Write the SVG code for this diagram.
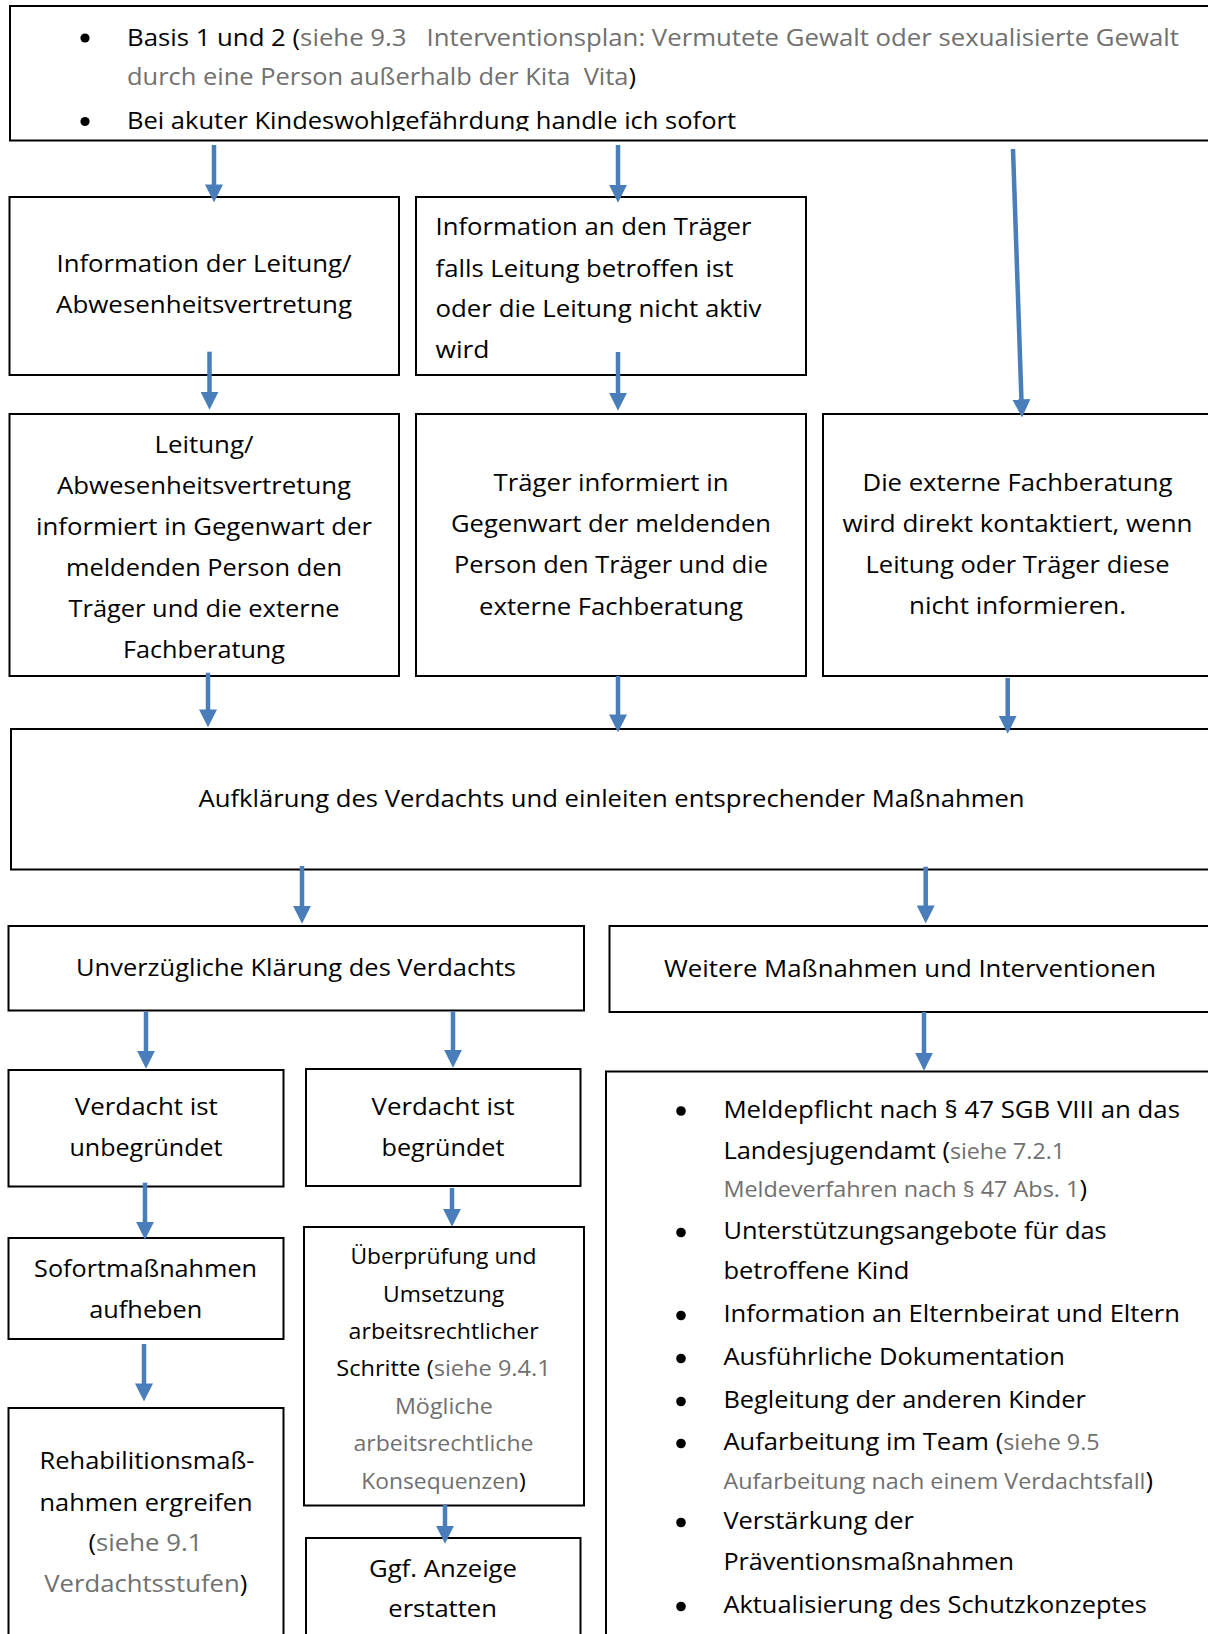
<svg xmlns="http://www.w3.org/2000/svg" width="1208" height="1634" viewBox="0 0 1208 1634">
<style>
.box{fill:#fff;stroke:#000;stroke-width:2}
text{font-family:"Open Sans","Liberation Sans",sans-serif;font-size:23px;fill:#000}
.c{text-anchor:middle}
.g{fill:#707070}
.sm{font-size:21px}
.md{font-size:21px}
.arr{stroke:#4A7EBB;stroke-width:4.5;fill:none;marker-end:url(#ah)}
.bul{fill:#000}
</style>
<defs>
<marker id="ah" markerUnits="userSpaceOnUse" markerWidth="18" markerHeight="18" viewBox="0 0 17 17" refX="5" refY="8.5" orient="auto">
<path d="M0,0 L17,8.5 L0,17 z" fill="#4A7EBB"/>
</marker>
<clipPath id="topclip"><rect x="0" y="0" width="1208" height="131"/></clipPath>
</defs>
<rect width="1208" height="1634" fill="#fff"/>

<g id="n-top">
<rect class="box" x="10" y="6" width="1215" height="134.5"/>
<g clip-path="url(#topclip)">
<circle class="bul" cx="85" cy="38" r="4.6"/>
<text x="127" y="45.5" textLength="1052" lengthAdjust="spacingAndGlyphs">Basis 1 und 2 (<tspan class="g">siehe 9.3&#160;&#160; Interventionsplan: Vermutete Gewalt oder sexualisierte Gewalt</tspan></text>
<text x="127" y="84.5" textLength="509" lengthAdjust="spacingAndGlyphs"><tspan class="g">durch eine Person außerhalb der Kita&#160; Vita</tspan>)</text>
<circle class="bul" cx="85" cy="121.5" r="4.6"/>
<text x="127" y="128.5" textLength="609" lengthAdjust="spacingAndGlyphs">Bei akuter Kindeswohlgefährdung handle ich sofort</text>
</g>
</g>

<g id="n-info-leitung">
<rect class="box" x="9.5" y="197" width="389.5" height="178"/>
<text class="c" x="204" y="271.5" textLength="295" lengthAdjust="spacingAndGlyphs">Information der Leitung/</text>
<text class="c" x="204" y="312.5" textLength="296" lengthAdjust="spacingAndGlyphs">Abwesenheitsvertretung</text>
</g>

<g id="n-info-traeger">
<rect class="box" x="416" y="197" width="390" height="178"/>
<text x="435.5" y="235" textLength="316" lengthAdjust="spacingAndGlyphs">Information an den Träger</text>
<text x="435.5" y="276.5" textLength="298" lengthAdjust="spacingAndGlyphs">falls Leitung betroffen ist</text>
<text x="435.5" y="317" textLength="326" lengthAdjust="spacingAndGlyphs">oder die Leitung nicht aktiv</text>
<text x="435.5" y="358" textLength="54" lengthAdjust="spacingAndGlyphs">wird</text>
</g>

<g id="n-leitung-informiert">
<rect class="box" x="9.5" y="414" width="389.5" height="262"/>
<text class="c" x="204" y="452.5" textLength="99" lengthAdjust="spacingAndGlyphs">Leitung/</text>
<text class="c" x="204" y="494" textLength="294" lengthAdjust="spacingAndGlyphs">Abwesenheitsvertretung</text>
<text class="c" x="204" y="535" textLength="336" lengthAdjust="spacingAndGlyphs">informiert in Gegenwart der</text>
<text class="c" x="204" y="576" textLength="276" lengthAdjust="spacingAndGlyphs">meldenden Person den</text>
<text class="c" x="204" y="617" textLength="271" lengthAdjust="spacingAndGlyphs">Träger und die externe</text>
<text class="c" x="204" y="658" textLength="162" lengthAdjust="spacingAndGlyphs">Fachberatung</text>
</g>

<g id="n-traeger-informiert">
<rect class="box" x="416" y="414" width="390" height="262"/>
<text class="c" x="611" y="490.5" textLength="235" lengthAdjust="spacingAndGlyphs">Träger informiert in</text>
<text class="c" x="611" y="531.5" textLength="320" lengthAdjust="spacingAndGlyphs">Gegenwart der meldenden</text>
<text class="c" x="611" y="573" textLength="314" lengthAdjust="spacingAndGlyphs">Person den Träger und die</text>
<text class="c" x="611" y="614.5" textLength="264" lengthAdjust="spacingAndGlyphs">externe Fachberatung</text>
</g>

<g id="n-fachberatung">
<rect class="box" x="823" y="414" width="400" height="262"/>
<text class="c" x="1017.5" y="490.5" textLength="310" lengthAdjust="spacingAndGlyphs">Die externe Fachberatung</text>
<text class="c" x="1017.5" y="531.5" textLength="350" lengthAdjust="spacingAndGlyphs">wird direkt kontaktiert, wenn</text>
<text class="c" x="1017.5" y="573" textLength="304" lengthAdjust="spacingAndGlyphs">Leitung oder Träger diese</text>
<text class="c" x="1017.5" y="614" textLength="217" lengthAdjust="spacingAndGlyphs">nicht informieren.</text>
</g>

<g id="n-aufklaerung">
<rect class="box" x="11" y="729" width="1215" height="140.5"/>
<text class="c" x="611.5" y="806.5" textLength="826" lengthAdjust="spacingAndGlyphs">Aufklärung des Verdachts und einleiten entsprechender Maßnahmen</text>
</g>

<g id="n-klaerung">
<rect class="box" x="8.5" y="926" width="575.5" height="84.5"/>
<text class="c" x="296" y="976" textLength="440" lengthAdjust="spacingAndGlyphs">Unverzügliche Klärung des Verdachts</text>
</g>

<g id="n-weitere">
<rect class="box" x="609.5" y="926" width="615" height="86"/>
<text class="c" x="910" y="976.5" textLength="492" lengthAdjust="spacingAndGlyphs">Weitere Maßnahmen und Interventionen</text>
</g>

<g id="n-unbegruendet">
<rect class="box" x="8.5" y="1070" width="275" height="116.5"/>
<text class="c" x="146.3" y="1115" textLength="143" lengthAdjust="spacingAndGlyphs">Verdacht ist</text>
<text class="c" x="146" y="1156" textLength="153" lengthAdjust="spacingAndGlyphs">unbegründet</text>
</g>

<g id="n-begruendet">
<rect class="box" x="306" y="1069" width="274.5" height="117"/>
<text class="c" x="443" y="1115" textLength="143" lengthAdjust="spacingAndGlyphs">Verdacht ist</text>
<text class="c" x="443" y="1156" textLength="123" lengthAdjust="spacingAndGlyphs">begründet</text>
</g>

<g id="n-sofort">
<rect class="box" x="8.5" y="1238" width="275" height="101"/>
<text class="c" x="145.6" y="1276.5" textLength="223" lengthAdjust="spacingAndGlyphs">Sofortmaßnahmen</text>
<text class="c" x="145.8" y="1318" textLength="113" lengthAdjust="spacingAndGlyphs">aufheben</text>
</g>

<g id="n-reha">
<rect class="box" x="8.5" y="1408" width="275" height="240"/>
<text class="c" x="147" y="1469" textLength="215" lengthAdjust="spacingAndGlyphs">Rehabilitionsmaß-</text>
<text class="c" x="146" y="1510.5" textLength="213" lengthAdjust="spacingAndGlyphs">nahmen ergreifen</text>
<text class="c" x="145.4" y="1551.3" textLength="114" lengthAdjust="spacingAndGlyphs">(<tspan class="g">siehe 9.1</tspan></text>
<text class="c" x="145.8" y="1592.3" textLength="203" lengthAdjust="spacingAndGlyphs"><tspan class="g">Verdachtsstufen</tspan>)</text>
</g>

<g id="n-ueberpruefung">
<rect class="box" x="304" y="1227" width="280" height="278.5"/>
<text class="c md" x="443.4" y="1264" textLength="186" lengthAdjust="spacingAndGlyphs">Überprüfung und</text>
<text class="c md" x="443.6" y="1301.5" textLength="121" lengthAdjust="spacingAndGlyphs">Umsetzung</text>
<text class="c md" x="443.6" y="1339" textLength="190" lengthAdjust="spacingAndGlyphs">arbeitsrechtlicher</text>
<text class="c md" x="443.5" y="1376.3" textLength="214.5" lengthAdjust="spacingAndGlyphs">Schritte (<tspan class="g">siehe 9.4.1</tspan></text>
<text class="c md g" x="443.9" y="1414" textLength="98" lengthAdjust="spacingAndGlyphs">Mögliche</text>
<text class="c md g" x="443.5" y="1451.3" textLength="180" lengthAdjust="spacingAndGlyphs">arbeitsrechtliche</text>
<text class="c md" x="443.5" y="1489" textLength="164.5" lengthAdjust="spacingAndGlyphs"><tspan class="g">Konsequenzen</tspan>)</text>
</g>

<g id="n-anzeige">
<rect class="box" x="306" y="1538" width="274.5" height="110"/>
<text class="c" x="443" y="1577.3" textLength="148" lengthAdjust="spacingAndGlyphs">Ggf. Anzeige</text>
<text class="c" x="442.6" y="1617.3" textLength="108.6" lengthAdjust="spacingAndGlyphs">erstatten</text>
</g>

<g id="n-liste">
<rect class="box" x="606" y="1071.5" width="620" height="580"/>
<circle class="bul" cx="681" cy="1111" r="4.8"/>
<text x="723.4" y="1117.6" textLength="456.6" lengthAdjust="spacingAndGlyphs">Meldepflicht nach § 47 SGB VIII an das</text>
<text x="723.4" y="1159" textLength="341.6" lengthAdjust="spacingAndGlyphs">Landesjugendamt (<tspan class="g sm">siehe 7.2.1</tspan></text>
<text x="723.4" y="1197" textLength="363.6" lengthAdjust="spacingAndGlyphs"><tspan class="g sm">Meldeverfahren nach § 47 Abs. 1</tspan>)</text>
<circle class="bul" cx="681" cy="1232.5" r="4.8"/>
<text x="723.4" y="1239" textLength="383.3" lengthAdjust="spacingAndGlyphs">Unterstützungsangebote für das</text>
<text x="723.4" y="1279.4" textLength="186" lengthAdjust="spacingAndGlyphs">betroffene Kind</text>
<circle class="bul" cx="681" cy="1315.5" r="4.8"/>
<text x="723.4" y="1322" textLength="456.6" lengthAdjust="spacingAndGlyphs">Information an Elternbeirat und Eltern</text>
<circle class="bul" cx="681" cy="1358.5" r="4.8"/>
<text x="723.4" y="1365" textLength="341.6" lengthAdjust="spacingAndGlyphs">Ausführliche Dokumentation</text>
<circle class="bul" cx="681" cy="1401.5" r="4.8"/>
<text x="723.4" y="1408" textLength="362.6" lengthAdjust="spacingAndGlyphs">Begleitung der anderen Kinder</text>
<circle class="bul" cx="681" cy="1443.5" r="4.8"/>
<text x="723.4" y="1450" textLength="376.3" lengthAdjust="spacingAndGlyphs">Aufarbeitung im Team (<tspan class="g sm">siehe 9.5</tspan></text>
<text x="723.4" y="1489" textLength="429.6" lengthAdjust="spacingAndGlyphs"><tspan class="g sm">Aufarbeitung nach einem Verdachtsfall</tspan>)</text>
<circle class="bul" cx="681" cy="1522.5" r="4.8"/>
<text x="723.4" y="1529" textLength="190.6" lengthAdjust="spacingAndGlyphs">Verstärkung der</text>
<text x="723.4" y="1570" textLength="290.6" lengthAdjust="spacingAndGlyphs">Präventionsmaßnahmen</text>
<circle class="bul" cx="681" cy="1606.5" r="4.8"/>
<text x="723.4" y="1613" textLength="423.6" lengthAdjust="spacingAndGlyphs">Aktualisierung des Schutzkonzeptes</text>
</g>

<g id="connectors">
<line class="arr" x1="214" y1="145" x2="214" y2="189.7"/>
<line class="arr" x1="618" y1="145" x2="618" y2="190"/>
<line class="arr" x1="1013" y1="149" x2="1021.6" y2="404.7"/>
<line class="arr" x1="209.5" y1="351.7" x2="209.5" y2="397"/>
<line class="arr" x1="618" y1="352" x2="618" y2="398"/>
<line class="arr" x1="208" y1="672.7" x2="208" y2="714.7"/>
<line class="arr" x1="618" y1="676" x2="618" y2="719.7"/>
<line class="arr" x1="1007.7" y1="678" x2="1007.7" y2="721"/>
<line class="arr" x1="302" y1="866" x2="302" y2="911"/>
<line class="arr" x1="925.7" y1="866.7" x2="925.7" y2="910.7"/>
<line class="arr" x1="146" y1="1011.7" x2="146" y2="1056"/>
<line class="arr" x1="453" y1="1011.7" x2="453" y2="1055"/>
<line class="arr" x1="145" y1="1182.7" x2="145" y2="1227"/>
<line class="arr" x1="452" y1="1188" x2="452" y2="1214"/>
<line class="arr" x1="144" y1="1344" x2="144" y2="1388.7"/>
<line class="arr" x1="445" y1="1504.7" x2="445" y2="1531"/>
<line class="arr" x1="924" y1="1012" x2="924" y2="1058"/>
</g>
</svg>
